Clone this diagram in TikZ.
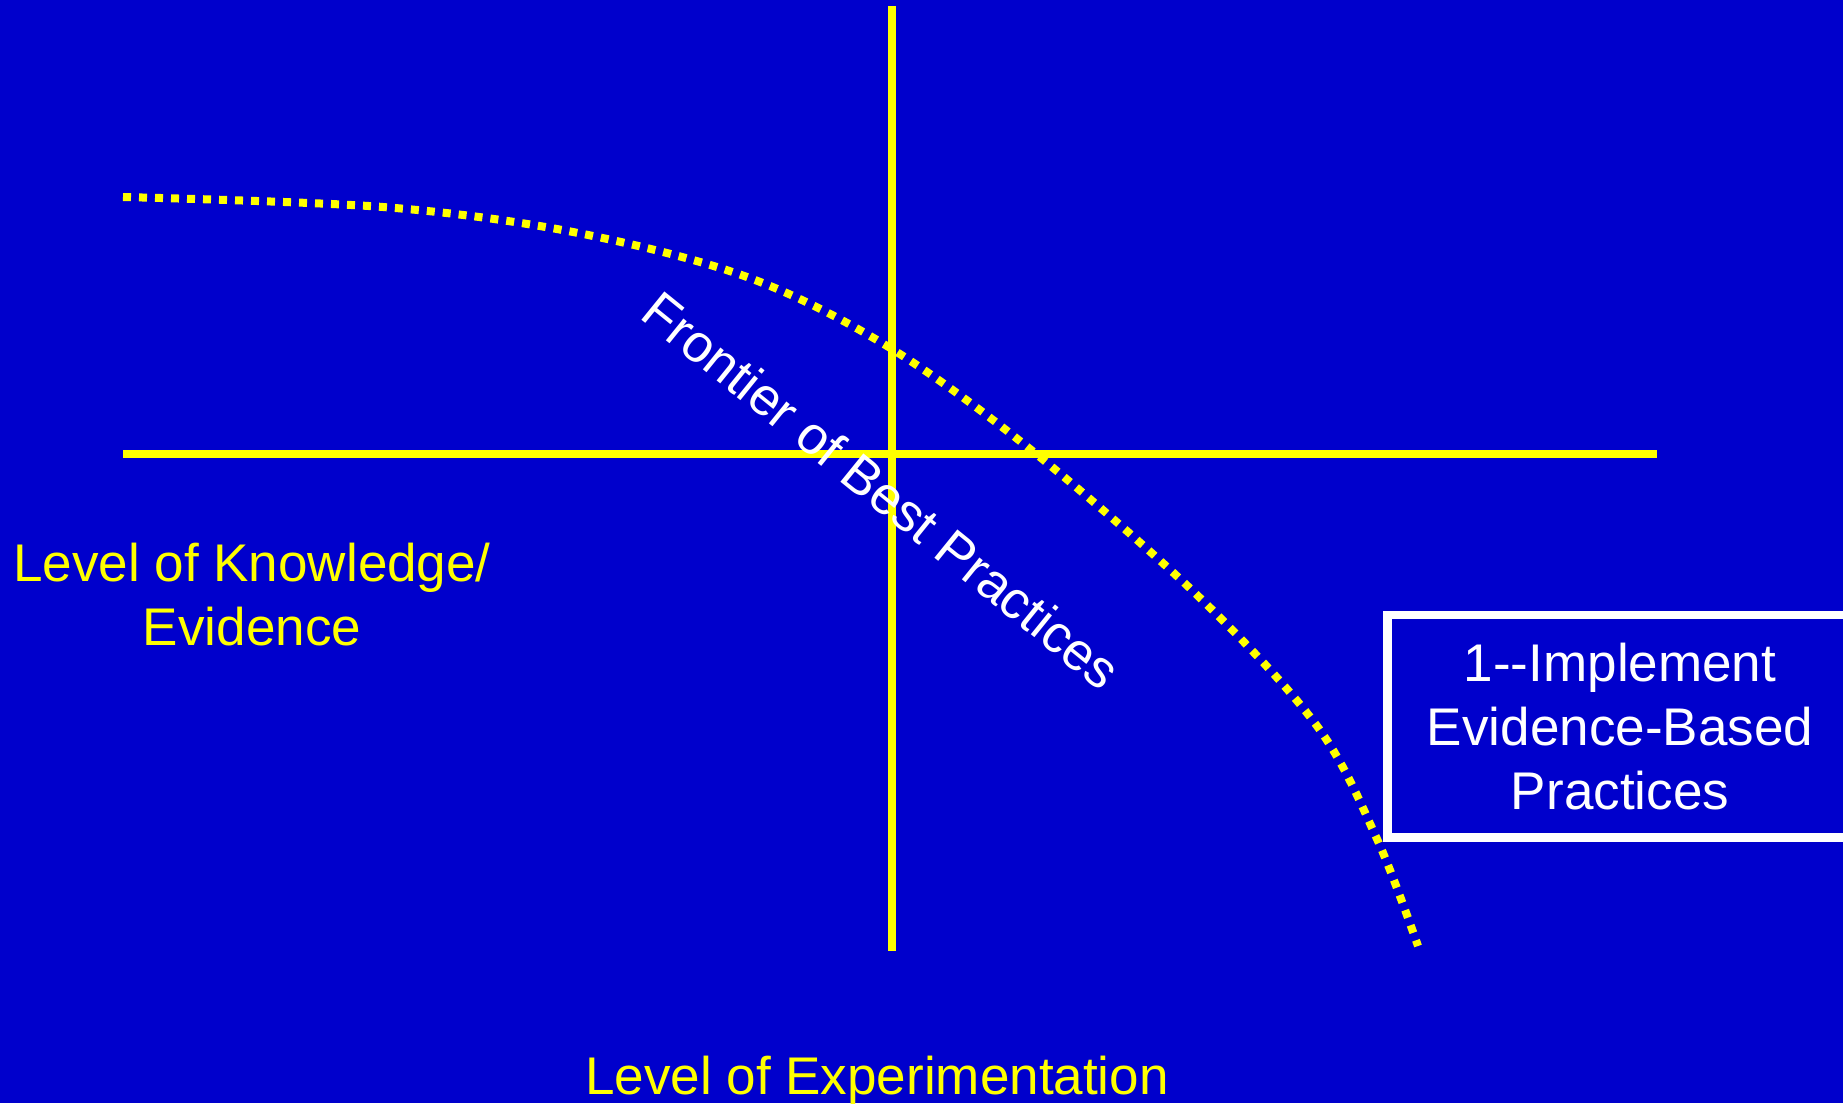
\documentclass[tikz,border=0pt]{standalone}
\usepackage{fontspec}
\setmainfont{Liberation Sans}
\definecolor{slideblue}{RGB}{0,0,204}
\definecolor{slideyellow}{RGB}{255,255,0}
\begin{document}
\begin{tikzpicture}[
    x=0.01cm, y=-0.01cm,
    axis/.style={draw=slideyellow, line width=0.08cm},
    frontierline/.style={draw=slideyellow, line width=0.08cm, dash pattern=on 0.08cm off 0.08cm},
    label/.style={font=\fontsize{15.08pt}{18.21pt}\selectfont, inner sep=0pt, align=center},
    answerbox/.style={label, draw=white, line width=0.085cm, text=white,
      minimum width=4.65cm, minimum height=2.225cm}
  ]
  \fill[slideblue] (0,0) rectangle (1843,1103);
  \useasboundingbox (0,0) rectangle (1843,1103);
  % axes
  \coordinate (top) at (891.5,6);
  \coordinate (bottom) at (891.5,951);
  \coordinate (left) at (123,454);
  \coordinate (right) at (1657,454);
  \draw[axis] (top) -- (bottom);
  \draw[axis] (left) -- (right);
  % frontier curve
  \draw[frontierline] plot[smooth, tension=0.55] coordinates {
    (123,197) (383,207) (573,232) (747,277) (887,346) (1030,449)
    (1197,595) (1317,726) (1377,839) (1418,946)};
  \node[label, text=white, anchor=base, rotate=-39] (frontier) at (870,505)
    {Frontier of Best Practices};
  \node[label, text=slideyellow] (knowledge) at (252,595)
    {Level of Knowledge/\\Evidence};
  \node[label, text=slideyellow, anchor=base] (experiment) at (877,1094)
    {Level of Experimentation};
  \node[answerbox] (implement) at (1620,726.3)
    {1-{}-Implement\\Evidence-Based\\Practices};
\end{tikzpicture}
\end{document}
